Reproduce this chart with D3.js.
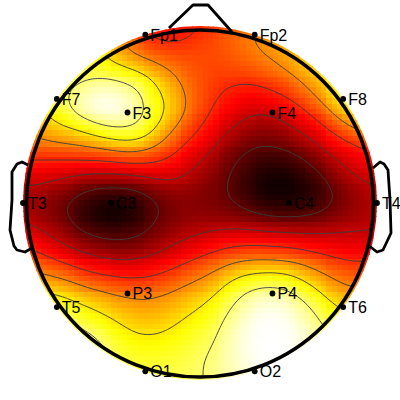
<!DOCTYPE html>
<html><head><meta charset="utf-8">
<style>html,body{margin:0;padding:0;background:#fff}svg{display:block}</style>
<script src="https://cdn.jsdelivr.net/npm/d3@7"></script></head><body>
<svg id="c" width="400" height="400"></svg>
<script>
// potential map (percent of colour range), nodes every 15 px
const fieldRows = [
[80,80,80,80,78,74,66,52,44,40,38,38,41,45,49,53,57,60,64,68,72,76,80,80,80],
[80,80,80,80,80,76,68,56,42,40,39,42,46,49,53,56,60,63,66,70,74,78,82,82,82],
[85,85,85,85,82,74,65,57,54,50,47,47,48,48,50,54,57,60,63,67,72,77,80,82,82],
[88,88,88,85,78,79,77,72,67,61,56,52,49,47,48,50,51,56,60,65,72,78,83,85,85],
[88,88,85,80,84,90,90,88,84,72,62,54,48,46,44,43.5,43.5,48,52.5,58,68,76,82,85,86],
[82,80,80,84,95,100,100,97,90,76,68,58,50,44,39,36,36,40,42,50,57,72,80,83,84],
[66,64,73,84,92,100,100,98,90,79,70,58,47,40,36,30,28,29,35,42,48,58,72,80,82],
[62,60,68,69.5,71,81,87,88,86,74,59,50,43,36.5,30,25,22,23,27,32,39,47,54,62,65],
[55,54,56,57.5,60,62,65,70,68,61,51,42,37,30.5,21,17,14.5,15.5,18,24,31,37,42,45,50],
[44,44,44,45,45,45,47,50,49,46,42,36.5,31,23,17,12,9,9,11,14,23,28,34,38.5,42],
[34,35,33,31,30,29.5,29,29.5,32,35,34,29.5,25,19,14,9,5,3,3,7,13,22.5,30,30.5,32],
[27,27.5,25,23,16,13,12,12.5,15.5,19,25,23,20,17,14,6,2,0,0,3,8,14,22,27,30],
[23,21,18,13,9,4,1,1,6,12,17,19,19,17,15.5,9,6,4,4,6,9,13.5,20,24,25],
[26,25,21,15,8,3,1,2,7,13,18,21,22,21,21,20,15,13,13,13.5,16,20,24,26,26],
[35,31,26,22,14,11,8,10,12,17,22,25,27,29.5,31,32,31.5,30.5,30,29,29,29,29,28,29],
[46,42,36,29.5,26,23,20,19,20,24,30,32,37,41,44,45,45,44,42.5,40,38,36.5,35,35,36],
[55,50,47,43,37.6,33,31,30,32,35,37,43,47,51,55,60,60,59,59,55,50,46,44,44,46],
[65,62,58.5,56,50,48,45,43,42.5,43.5,49,53,57,61,72,75,78,80,77,69,62,56,52,50,55],
[75,72,72,71,64,60,57,55,54,55,58,61,65,71,78,88,92,92,88,81,72,64,60,60,62],
[85,85,82,78,74,71,67,63,61,62,64,68,72,76,86,94,98,99,97,90,81,72,68,70,70],
[90,90,90,88,85,78,74,71,67,67,70,74,77,82,91,98,100,100,100,95,87,80,76,76,76],
[92,92,92,92,92,87,79,74,72,72,74,76,80,85,92,99,100,100,100,96,90,85,80,80,80],
[95,95,95,95,95,95,85,80,78,78,79,81,84,88,93,98,100,100,100,98,94,90,85,85,85],
[95,95,95,95,95,90,86,83,81,81,82,83,85,89,93,97,100,100,100,98,95,90,85,85,85],
[95,95,95,95,95,90,86,84,83,82,82,83,84,88,91,95,98,100,100,98,95,90,85,85,85]
];
const contourLevels = [14.3,28.6,42.9,57.1,71.4,85.7];
const hotStops = [0,37.5,75,100];
const hotColors = ["#000000","#ff0000","#ffff00","#ffffff"];
// electrodes: name, angle from nose (deg, clockwise), radius (head radii)
const channelNames = ["Fp1","Fp2","F7","F3","F4","F8","T3","C3","C4","T4","T5","P3","P4","T6","O1","O2"];
const channelAngles = [-18,18,-54,-38.7,38.7,54,-90,-90,90,90,-126,-141.3,141.3,126,-162,162];
const channelRadii = [1,1,1,.655,.655,1,1,.503,.503,1,1,.655,.655,1,1,1];
// head outline decorations, offsets from the head centre
const noseOutline = [[-31,-175],[-7,-198],[8,-198],[32,-171]];
const leftEar = [[-172,-38],[-178,-41],[-183,-39],[-188,-31],[-188,-3],[-190,27],[-186,43],[-183,47],[-175,49],[-168,45]];
const rightEar = [[173,-35],[180,-41],[184,-39],[188,-33],[190,-3],[191,30],[183,47],[177,49],[168,42]];

const svg = d3.select("#c");
const cx = 200, cy = 203, unit = 177;
const hx = d3.scaleLinear().domain([-1,1]).range([cx-unit,cx+unit]);
const hy = d3.scaleLinear().domain([-1,1]).range([cy-unit,cy+unit]);
const nodeX = d3.scaleLinear().domain([0,24]).range([20,380]);
const nodeY = d3.scaleLinear().domain([0,24]).range([23,383]);
const color = d3.scaleLinear().domain(hotStops).range(hotColors).clamp(true);

function cr(a,b,c,d,t){return 0.5*(2*b+(c-a)*t+(2*a-5*b+4*c-d)*t*t+(3*b-a-3*c+d)*t*t*t);}
function sample(u,v){
  const i=Math.min(23,Math.max(0,Math.floor(u))), j=Math.min(23,Math.max(0,Math.floor(v)));
  const tx=u-i, ty=v-j, R=(jj,ii)=>fieldRows[Math.max(0,Math.min(24,jj))][Math.max(0,Math.min(24,ii))];
  const col=[];
  for(let k=-1;k<=2;k++) col.push(cr(R(j+k,i-1),R(j+k,i),R(j+k,i+1),R(j+k,i+2),tx));
  return cr(col[0],col[1],col[2],col[3],ty);
}

const defs = svg.append("defs");
defs.append("clipPath").attr("id","disc").append("circle").attr("cx",cx).attr("cy",cy).attr("r",177);
defs.append("clipPath").attr("id","inner").append("circle").attr("cx",cx).attr("cy",cy).attr("r",175);

// resampled field, lightly smoothed to remove reading noise
const fineN = 145, step = 360/(fineN-1);
const fine = new Float64Array(fineN*fineN);
for(let r=0;r<fineN;r++)for(let c=0;c<fineN;c++)
  fine[r*fineN+c]=sample(nodeX.invert(20+c*step),nodeY.invert(23+r*step));
d3.blur2({data:fine,width:fineN,height:fineN},4);

// image cells
const gridN = 67, cell = 360/gridN;
const cellIdx = d3.range(gridN);
const fineAt=(px,py)=>fine[Math.round((py-23)/step)*fineN+Math.round((px-20)/step)];
const heat = svg.append("g").attr("clip-path","url(#disc)").attr("shape-rendering","crispEdges");
cellIdx.forEach(r=>{
  heat.selectAll(null).data(cellIdx).join("rect")
    .attr("x",c=>20+c*cell).attr("y",23+r*cell)
    .attr("width",cell+.6).attr("height",cell+.6)
    .attr("fill",c=>color(fineAt(20+(c+.5)*cell,23+(r+.5)*cell)));
});

// contours
const contours = d3.contours().size([fineN,fineN]).thresholds(contourLevels)(Array.from(fine));
const proj = d3.geoTransform({point(x,y){this.stream.point(20+(x-.5)*step,23+(y-.5)*step);}});
svg.append("g").attr("clip-path","url(#inner)").selectAll("path").data(contours).join("path")
  .attr("d",d3.geoPath(proj)).attr("fill","none").attr("stroke","#3c3c3c").attr("stroke-width",.9);

// head
const line = d3.line().x(d=>hx(d[0]/unit)).y(d=>hy(d[1]/unit));
svg.append("circle").attr("cx",cx).attr("cy",cy+.5).attr("r",173.5).attr("fill","none").attr("stroke","#000").attr("stroke-width",3.6);
[noseOutline,leftEar,rightEar].forEach(o=>svg.append("path").attr("d",line(o)).attr("fill","none").attr("stroke","#000").attr("stroke-width",2.8).attr("stroke-linejoin","round"));

// electrodes
const chans = channelNames.map((n,i)=>{
  const a=channelAngles[i]*Math.PI/180,r=channelRadii[i];
  return {n,x:hx(r*Math.sin(a)),y:hy(-r*Math.cos(a))};
});
svg.append("g").selectAll("circle").data(chans).join("circle")
  .attr("cx",d=>d.x).attr("cy",d=>d.y).attr("r",2.9).attr("fill","#000");
svg.append("g").selectAll("text").data(chans).join("text")
  .attr("x",d=>d.x+5).attr("y",d=>d.y+6).text(d=>d.n)
  .attr("font-family","'Liberation Sans',Arial,sans-serif").attr("font-size",16).attr("fill","#000");
</script></body></html>
